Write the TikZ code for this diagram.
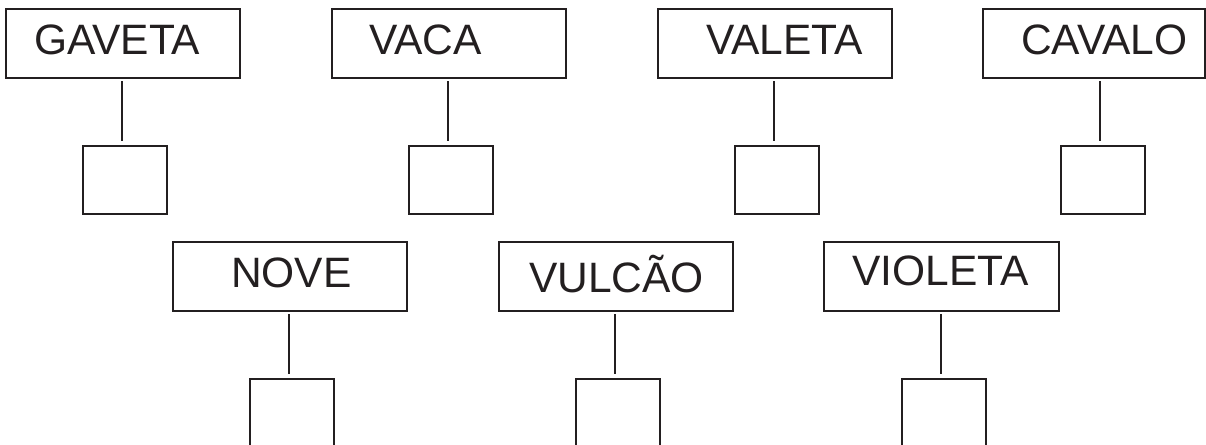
\documentclass[tikz,border=0pt]{standalone}
\usepackage{fontspec}
\setmainfont{Liberation Sans}
\definecolor{ink}{HTML}{231F20}
\begin{document}
\begin{tikzpicture}[x=1pt,y=-1pt,
  wordbox/.style={draw=ink,line width=2pt,minimum width=234pt,minimum height=69pt,inner sep=0pt,anchor=north west},
  answerbox/.style={draw=ink,line width=2pt,minimum width=84pt,minimum height=68pt,inner sep=0pt,anchor=north west},
  word/.style={anchor=base west,inner sep=0pt,text=ink,font=\fontsize{42.5}{42.5}\selectfont},
  link/.style={draw=ink,line width=1.5pt,shorten <=4pt,shorten >=4pt}]
\useasboundingbox (0,0) rectangle (1206,444);
\clip (0,0) rectangle (1206,444);
% top row
\node[wordbox] (b1) at (5,8) {};
\node[wordbox] (b2) at (331,8) {};
\node[wordbox] (b3) at (657,8) {};
\node[wordbox,minimum width=222pt] (b4) at (982,8) {};
\node[word] (t1) at (34,55) {GAVETA};
\node[word] (t2) at (369,55) {VACA};
\node[word] (t3) at (706,55) {VALETA};
\node[word] (t4) at (1021,55) {CAVALO};
\node[answerbox] (a1) at (82,145) {};
\node[answerbox] (a2) at (408,145) {};
\node[answerbox] (a3) at (734,145) {};
\node[answerbox] (a4) at (1060,145) {};
\coordinate (c1) at (122,77);
\coordinate (c2) at (448,77);
\coordinate (c3) at (774,77);
\coordinate (c4) at (1100,77);
\draw[link] (c1) -- (c1 |- a1.north);
\draw[link] (c2) -- (c2 |- a2.north);
\draw[link] (c3) -- (c3 |- a3.north);
\draw[link] (c4) -- (c4 |- a4.north);
% bottom row
\node[wordbox] (b5) at (172,241) {};
\node[wordbox] (b6) at (498,241) {};
\node[wordbox,minimum width=235pt] (b7) at (823,241) {};
\node[word] (t5) at (231,287) {NOVE};
\node[word] (t6) at (529,292) {VULCÃO};
\node[word] (t7) at (852,285) {VIOLETA};
\node[answerbox] (a5) at (249,378) {};
\node[answerbox] (a6) at (575,378) {};
\node[answerbox] (a7) at (901,378) {};
\coordinate (c5) at (289,310);
\coordinate (c6) at (615,310);
\coordinate (c7) at (941,310);
\draw[link] (c5) -- (c5 |- a5.north);
\draw[link] (c6) -- (c6 |- a6.north);
\draw[link] (c7) -- (c7 |- a7.north);
\end{tikzpicture}
\end{document}
